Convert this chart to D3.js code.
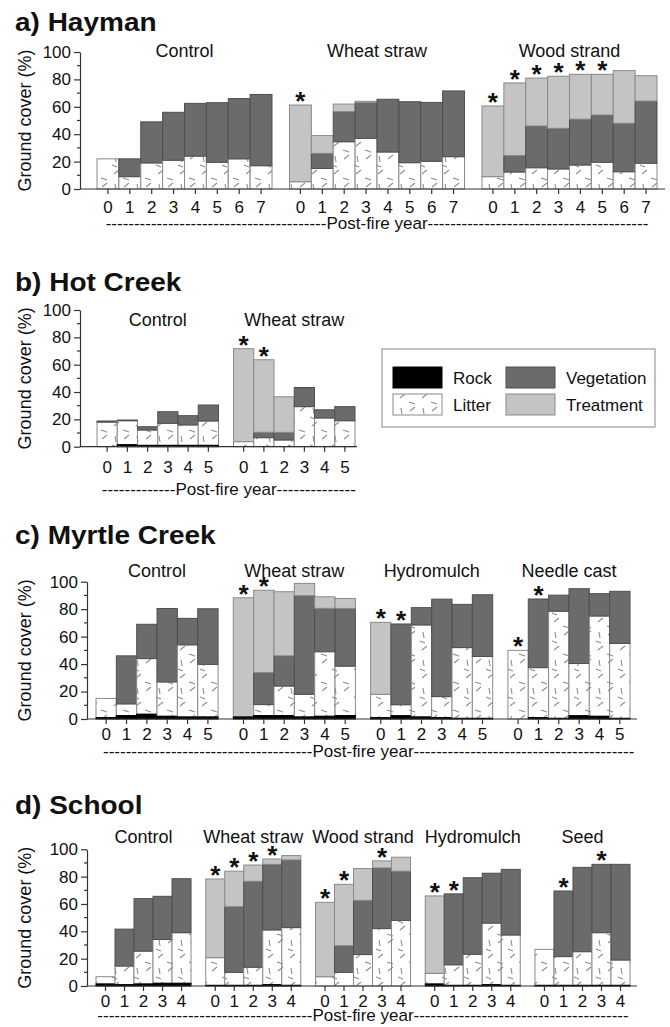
<!DOCTYPE html>
<html>
<head>
<meta charset="utf-8">
<script src="https://cdn.jsdelivr.net/npm/d3@7"></script>
<style>
  body { margin: 0; background: #fff; }
  svg text { font-family: "Liberation Sans", Arial, Helvetica, sans-serif; fill: #111; }
</style>
</head>
<body>
<svg id="chart" width="670" height="1027"></svg>
<script>
// ---- data (ground cover %) ----

// a) Hayman
var haymanGroups = ["Control", "Wheat straw", "Wood strand"];
var haymanYears = [0, 1, 2, 3, 4, 5, 6, 7];
var haymanRock = [[0,0,0,0,0,0,0,0], [0,0,0,0,0,0,0,0], [0,0,0,0,0,0,0,0]];
var haymanLitter = [[22,9,19,21,24,19.5,22,17], [5.3,15,34.5,37,27,19.2,20.2,23.6], [9,12.4,15.5,14.6,17.5,19.5,12.6,18.8]];
var haymanVeg = [[0,13,30,35,38.5,43.5,44,52], [0,11,22,26,38.5,44.5,43,48], [0,12,30.5,29.7,33.5,34.5,35.4,45.4]];
var haymanTreat = [[0,0,0,0,0,0,0,0], [56,13,5.5,1,0,0,0,0], [51.6,53,35,38,32.7,29.7,38.4,18.5]];
var haymanStars = [[], [0], [0,1,2,3,4,5]];

// b) Hot Creek
var hotGroups = ["Control", "Wheat straw"];
var hotYears = [0, 1, 2, 3, 4, 5];
var hotRock = [[0,1.5,1,1,1,1], [0,0,0,0,0,0]];
var hotLitter = [[18,17.5,11.2,16.1,14.9,17.8], [3.7,6.6,4.9,29.3,21,19]];
var hotVeg = [[0.8,0.5,2.4,8.5,6.8,11.7], [0,4,5.6,14,6,10.3]];
var hotTreat = [[0,0,0,0,0,0], [68,53,26,0,0,0]];
var hotStars = [[], [0,1]];

// c) Myrtle Creek
var myrtleGroups = ["Control", "Wheat straw", "Hydromulch", "Needle cast"];
var myrtleYears = [0, 1, 2, 3, 4, 5];
var myrtleRock = [[1,2.5,3.5,2,1.5,1.5], [1.5,2.5,2.5,1.5,2,2.5], [1,2.4,1.5,1,0.5,0.5], [0,1,0.5,2.4,2,0.5]];
var myrtleLitter = [[14,8.5,40.5,25,52.5,38.3], [0,8,21.5,16.5,47,36], [17,8,67,15.3,51.5,45], [50,36.4,78,38,73,54.5]];
var myrtleVeg = [[0,35,25,53.5,19.3,40.5], [0,23.3,22,71.8,31.6,42], [0,58.8,12.6,71,31.5,45], [0,50,11.7,54.5,16.3,38]];
var myrtleTreat = [[0,0,0,0,0,0], [86.8,60,46.7,9,8.4,7.3], [52.4,0,0,0,0,0], [0,0,0,0,0,0]];
var myrtleStars = [[], [0,1], [0,1], [0,1]];

// d) School
var schoolGroups = ["Control", "Wheat straw", "Wood strand", "Hydromulch", "Seed"];
var schoolYears = [0, 1, 2, 3, 4];
var schoolRock = [[1.5,1,1.5,2,2], [0.5,0.5,0.5,1,0.5], [0,0,0,0,0], [1.5,0.5,0.5,1,0.5], [0.5,0.5,0.5,0.5,0.5]];
var schoolLitter = [[5.3,13.6,24,32,37], [20.2,9.5,13.2,40,42.2], [6.8,10,23,42,48], [7.8,15,22.7,45,36.8], [26.3,21,24.6,38.5,18.5]];
var schoolVeg = [[0,27,38.4,31.6,39.5], [0,48,62.9,48,49.5], [0,19.5,39.7,44.4,36], [0,51.9,56,36.5,48], [0,48,61.7,50,70]];
var schoolTreat = [[0,0,0,0,0], [57.6,26,11.9,3.9,3.2], [54.4,44.9,23.2,5.1,10.2], [56.6,0,0,0,0], [0,0,0,0,0]];
var schoolStars = [[], [0,1,2,3], [0,1,3], [0,1], [1,3]];

var legendLabels = ["Rock", "Vegetation", "Litter", "Treatment"];

// ---- styles ----
var rockColour = '#000';
var vegColour = '#6b6b6b';
var treatColour = '#c4c4c4';
var barStroke = '#8a8a8a';
var axisColour = '#333';

var svg = d3.select("#chart");

// litter pattern: white with short grey dashes at odd angles
var defs = svg.append("defs");
var pat = defs.append("pattern")
  .attr("id", "litter")
  .attr("patternUnits", "userSpaceOnUse")
  .attr("width", 22)
  .attr("height", 28);
pat.append("rect").attr("width", 22).attr("height", 28).attr("fill", "#fff");
[[4,6,9,2], [13,10,19,12], [5,16,6,22], [14,19,19,15], [2,25,7,27]].forEach(function (s) {
  pat.append("line")
    .attr("x1", s[0]).attr("y1", s[1]).attr("x2", s[2]).attr("y2", s[3])
    .attr("stroke", "#8c8c8c").attr("stroke-width", 1.1);
});

function buildPanel(cfg) {
  var g = svg.append("g");

  var x = d3.scaleBand()
    .domain(cfg.groups)
    .range(cfg.range)
    .paddingInner(cfg.pad)
    .paddingOuter(0);
  var xi = d3.scaleBand()
    .domain(cfg.years)
    .range([0, x.bandwidth()]);
  var y = d3.scaleLinear().domain([0, 100]).range([cfg.y0, cfg.y100]);

  // title (the source font is a wide bold sans, so stretch it a bit)
  g.append("text")
    .attr("transform", "translate(15," + cfg.titleY + ") scale(1.12,1)")
    .attr("font-size", 25).attr("font-weight", "bold")
    .text(cfg.title);

  // y axis label
  g.append("text")
    .attr("transform", "translate(31," + ((cfg.y0 + cfg.y100) / 2) + ") rotate(-90)")
    .attr("text-anchor", "middle")
    .attr("font-size", 18)
    .text("Ground cover (%)");

  // bars
  cfg.groups.forEach(function (grp, gi) {
    cfg.years.forEach(function (yr, yi) {
      var bx = x(grp) + xi(yr);
      var bw = xi.bandwidth();
      var parts = [
        { v: cfg.rock[gi][yi], fill: rockColour, stroke: rockColour },
        { v: cfg.litter[gi][yi], fill: "url(#litter)", stroke: barStroke },
        { v: cfg.veg[gi][yi], fill: vegColour, stroke: '#4f4f4f' },
        { v: cfg.treat[gi][yi], fill: treatColour, stroke: barStroke }
      ];
      var base = 0;
      parts.forEach(function (p) {
        p.lo = base; base += p.v; p.hi = base;
      });
      // draw litter/veg/treat first, rock last so it stays visible
      [1, 2, 3, 0].forEach(function (k) {
        var p = parts[k];
        if (p.v <= 0) return;
        g.append("rect")
          .attr("x", bx)
          .attr("y", y(p.hi))
          .attr("width", bw)
          .attr("height", y(p.lo) - y(p.hi))
          .attr("fill", p.fill)
          .attr("stroke", p.stroke)
          .attr("stroke-width", 1);
      });
      if (cfg.stars[gi].indexOf(yi) > -1) {
        g.append("text")
          .attr("x", bx + bw / 2)
          .attr("y", y(base) + 5)
          .attr("text-anchor", "middle")
          .attr("font-size", 26)
          .attr("font-weight", "bold")
          .text("*");
      }
    });

    // group label
    g.append("text")
      .attr("x", x(grp) + x.bandwidth() / 2)
      .attr("y", cfg.labelY)
      .attr("text-anchor", "middle")
      .attr("font-size", 18)
      .text(grp);

    // x ticks + labels
    cfg.years.forEach(function (yr) {
      var cx = x(grp) + xi(yr) + xi.bandwidth() / 2;
      g.append("line")
        .attr("x1", cx).attr("x2", cx)
        .attr("y1", cfg.y0).attr("y2", cfg.y0 + 5)
        .attr("stroke", axisColour).attr("stroke-width", 1.2);
      g.append("text")
        .attr("x", cx).attr("y", cfg.y0 + cfg.tickDy)
        .attr("text-anchor", "middle")
        .attr("font-size", cfg.tickSize)
        .text(yr);
    });
  });

  // y axis
  var yAxis = d3.axisLeft(y).tickValues([0, 20, 40, 60, 80, 100]).tickSize(6).tickPadding(3).tickSizeOuter(0);
  var ya = g.append("g").attr("transform", "translate(" + cfg.axisX + ",0)").call(yAxis);
  ya.select(".domain").attr("stroke", axisColour).attr("stroke-width", 1.2);
  ya.selectAll(".tick line").attr("stroke", axisColour).attr("stroke-width", 1.2);
  ya.selectAll(".tick text")
    .attr("font-size", cfg.tickSize)
    .attr("font-family", '"Liberation Sans", Arial, sans-serif')
    .attr("fill", "#111");
  [10, 30, 50, 70, 90].forEach(function (v) {
    g.append("line")
      .attr("x1", cfg.axisX - 3).attr("x2", cfg.axisX)
      .attr("y1", y(v)).attr("y2", y(v))
      .attr("stroke", axisColour).attr("stroke-width", 1.2);
  });

  // x axis baseline
  g.append("line")
    .attr("x1", cfg.axisX).attr("x2", cfg.axisEnd)
    .attr("y1", cfg.y0).attr("y2", cfg.y0)
    .attr("stroke", axisColour).attr("stroke-width", 1.2);

  // "-----Post-fire year-----"
  var cxMid = (cfg.range[0] + cfg.range[1]) / 2;
  var py = cfg.y0 + cfg.postDy;
  var mid = g.append("text")
    .attr("x", cxMid).attr("y", py)
    .attr("text-anchor", "middle")
    .attr("font-size", 17)
    .text("Post-fire year");
  var w = mid.node().getComputedTextLength();
  var probe = g.append("text").attr("font-size", 17).text("----------");
  var dashW = probe.node().getComputedTextLength() / 10;
  probe.remove();
  var nL = Math.max(0, Math.round((cxMid - w / 2 - cfg.dash[0]) / dashW));
  var nR = Math.max(0, Math.round((cfg.dash[1] - cxMid - w / 2) / dashW));
  g.append("text")
    .attr("x", cxMid - w / 2).attr("y", py)
    .attr("text-anchor", "end").attr("font-size", 17)
    .text("-".repeat(nL));
  g.append("text")
    .attr("x", cxMid + w / 2).attr("y", py)
    .attr("text-anchor", "start").attr("font-size", 17)
    .text("-".repeat(nR));
}

buildPanel({
  title: "a) Hayman", titleY: 31,
  groups: haymanGroups, years: haymanYears,
  rock: haymanRock, litter: haymanLitter, veg: haymanVeg, treat: haymanTreat, stars: haymanStars,
  axisX: 80, axisEnd: 665, range: [97, 657], pad: 0.0909,
  y0: 189, y100: 52, labelY: 57, tickDy: 24, postDy: 40, tickSize: 17, dash: [105, 650]
});

buildPanel({
  title: "b) Hot Creek", titleY: 291,
  groups: hotGroups, years: hotYears,
  rock: hotRock, litter: hotLitter, veg: hotVeg, treat: hotTreat, stars: hotStars,
  axisX: 80, axisEnd: 357, range: [97, 355], pad: 0.11,
  y0: 446.7, y100: 310, labelY: 326, tickDy: 26, postDy: 48, tickSize: 17, dash: [100, 353]
});

buildPanel({
  title: "c) Myrtle Creek", titleY: 544,
  groups: myrtleGroups, years: myrtleYears,
  rock: myrtleRock, litter: myrtleLitter, veg: myrtleVeg, treat: myrtleTreat, stars: myrtleStars,
  axisX: 87, axisEnd: 637, range: [96, 630], pad: 0.111,
  y0: 719, y100: 581.7, labelY: 577, tickDy: 21, postDy: 38, tickSize: 17, dash: [102, 633]
});

buildPanel({
  title: "d) School", titleY: 814,
  groups: schoolGroups, years: schoolYears,
  rock: schoolRock, litter: schoolLitter, veg: schoolVeg, treat: schoolTreat, stars: schoolStars,
  axisX: 87, axisEnd: 637, range: [96, 630], pad: 0.134,
  y0: 986, y100: 849.3, labelY: 843, tickDy: 21, postDy: 35, tickSize: 17, dash: [97, 627]
});

// legend (sits beside panel b)
var leg = svg.append("g");
leg.append("rect")
  .attr("x", 382).attr("y", 349).attr("width", 273).attr("height", 78)
  .attr("fill", "#fff").attr("stroke", "#999").attr("stroke-width", 1.2);
var legFills = [rockColour, vegColour, "url(#litter)", treatColour];
var legStrokes = [rockColour, '#4f4f4f', barStroke, barStroke];
legendLabels.forEach(function (lab, i) {
  var col = i % 2, row = Math.floor(i / 2);
  var sx = 393 + col * 113, sy = 367 + row * 27;
  leg.append("rect")
    .attr("x", sx).attr("y", sy).attr("width", 49).attr("height", 21)
    .attr("fill", legFills[i]).attr("stroke", legStrokes[i]);
  leg.append("text")
    .attr("x", sx + 60).attr("y", sy + 17)
    .attr("font-size", 17)
    .text(lab);
});
</script>
</body>
</html>
